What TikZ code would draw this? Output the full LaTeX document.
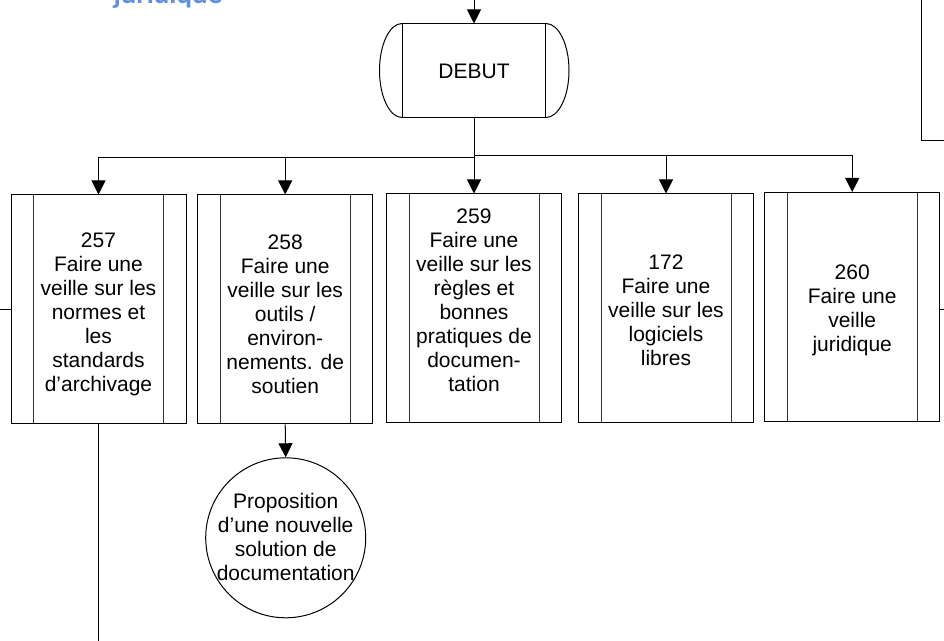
\documentclass[tikz,border=0pt]{standalone}
\usepackage{fontspec}
\setmainfont{Liberation Sans}
\newfontfamily\headfont{Carlito}
\usetikzlibrary{arrows.meta,calc}
\definecolor{headblue}{RGB}{95,145,220}
\begin{document}
\begin{tikzpicture}[x=1pt,y=1pt,line width=1pt,
  arr/.style={-{Triangle[length=14pt,width=14pt]}},
  txt/.style={font=\fontsize{21}{24}\selectfont, align=center, inner sep=0pt},
  subproc/.style={draw, txt, minimum width=175pt, minimum height=229pt,
    path picture={\draw[line width=1pt, black!80]
      ([xshift=22.5pt]path picture bounding box.north west) -- ([xshift=22.5pt]path picture bounding box.south west)
      ([xshift=-22.5pt]path picture bounding box.north east) -- ([xshift=-22.5pt]path picture bounding box.south east);}},
  startnode/.style={draw, txt, minimum width=143pt, minimum height=94pt},
  endcircle/.style={draw, circle, minimum size=160pt, inner sep=0pt}]
\useasboundingbox (0,0) rectangle (944,640);

% heading fragment
\node[anchor=base west, inner sep=0pt, font=\headfont\bfseries\fontsize{29}{32}\selectfont, text=headblue] (hd) at (113,636) {juridique};

% top-right fragment
\draw (921,645) |- (948,499);

% start
\node[startnode] (d) at (474,569) {DEBUT};
\draw (d.north west) arc[start angle=90,end angle=270,x radius=22.5pt,y radius=47pt];
\draw (d.north east) arc[start angle=90,end angle=-90,x radius=23pt,y radius=47pt];
\coordinate (top) at (474,645);
\draw[arr] (top) -- (d.north);

% boxes
\node[subproc] (b1) at (98.5,330.5) {};
\node[txt] (t1) at ([yshift=-5pt]b1.center) {257\\Faire une\\veille sur les\\normes et\\les\\standards\\d’archivage};
\node[subproc] (b2) at (285.2,330.5) {};
\node[txt] (t2) at ([yshift=-5pt]b2.center) {258\\Faire une\\veille sur les\\outils /\\environ-\\nements. de\\soutien};
\node[subproc] (b3) at (474,331.5) {};
\node[txt] (t3) at ([yshift=8pt]b3.center) {259\\Faire une\\veille sur les\\règles et\\bonnes\\pratiques de\\documen-\\tation};
\node[subproc] (b4) at (666,331.5) {};
\node[txt] (t4) at ([yshift=-2pt]b4.center) {172\\Faire une\\veille sur les\\logiciels\\libres};
\node[subproc] (b5) at (852.2,333) {};
\node[txt] (t5) at ([yshift=-3pt]b5.center) {260\\Faire une\\veille\\juridique};

% connectors from start
\draw[arr] (d.south) -- (b3.north);
\path (d.south) ++(0,-39) coordinate (jl);
\path (d.south) ++(0,-37) coordinate (jr);
\draw[arr] (jl) -| (b1.north);
\draw[arr] (jl -| b2.north) -- (b2.north);
\draw[arr] (jr) -| (b5.north);
\draw[arr] (jr -| b4.north) -- (b4.north);

% circle
\node[endcircle] (c) at (285.7,102.2) {};
\node[txt] (ct) at ([yshift=0.5pt]c.center) {Proposition\\d’une nouvelle\\solution de\\documentation};
\draw[arr] (b2.south) -- (c.north);

% side and bottom lines
\coordinate (e1) at (98.5,-5);
\draw (b1.south) -- (e1);
\coordinate (lw) at (-5,330);
\draw (lw) -- (b1.west |- lw);
\coordinate (rw) at (950,330);
\draw (b5.east |- rw) -- (rw);
\end{tikzpicture}
\end{document}
